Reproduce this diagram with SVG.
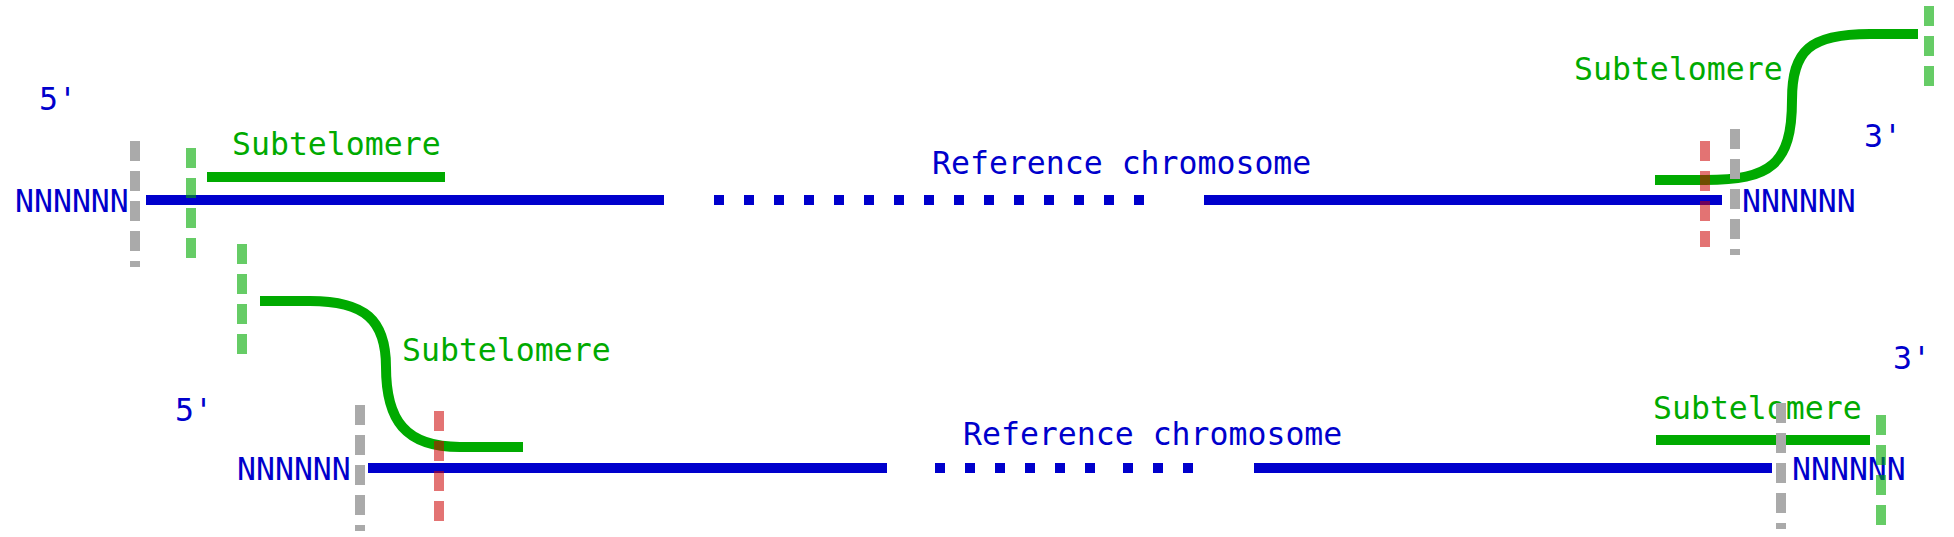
<svg xmlns="http://www.w3.org/2000/svg" width="1954" height="537" viewBox="0 0 1954 537">
<style>
text{font-family:"DejaVu Sans Mono","Liberation Mono",monospace;font-size:31.5px}
.b{fill:#0000cc}
.g{fill:#00aa00}
.chr{stroke:#0000cc;stroke-width:10;fill:none}
.dot{stroke:#0000cc;stroke-width:10;stroke-dasharray:10 20;fill:none}
.sub{stroke:#00aa00;stroke-width:10;fill:none}
.gray{stroke:#aaaaaa;stroke-width:10;stroke-dasharray:20 10}
.lg{stroke:#00aa00;stroke-opacity:0.6;stroke-width:10;stroke-dasharray:20 10}
.red{stroke:#cc0000;stroke-opacity:0.55;stroke-width:10;stroke-dasharray:20 10}
</style>
<rect width="1954" height="537" fill="#ffffff"/>
<g id="chromosome-top">
<line class="chr" x1="146" y1="200" x2="664" y2="200"/>
<line class="dot" x1="714" y1="200" x2="1144" y2="200"/>
<line class="chr" x1="1204" y1="200" x2="1722" y2="200"/>
<text class="b" x="932" y="174">Reference chromosome</text>
<text class="b" x="39" y="110">5'</text>
<text class="b" x="1864" y="147">3'</text>
<text class="b" x="15" y="212">NNNNNN</text>
<text class="b" x="1742" y="212">NNNNNN</text>
</g>
<g id="chromosome-bottom">
<line class="chr" x1="368" y1="468" x2="887" y2="468"/>
<line class="dot" x1="935" y1="468" x2="1095" y2="468"/>
<line class="dot" x1="1123" y1="468" x2="1193" y2="468"/>
<line class="chr" x1="1254" y1="468" x2="1772" y2="468"/>
<text class="b" x="963" y="445">Reference chromosome</text>
<text class="b" x="175" y="421">5'</text>
<text class="b" x="1893" y="369">3'</text>
<text class="b" x="237" y="480">NNNNNN</text>
<text class="b" x="1792" y="480">NNNNNN</text>
</g>
<g id="subtelomere-top-left">
<line class="sub" x1="207" y1="177" x2="445" y2="177"/>
<text class="g" x="232" y="155">Subtelomere</text>
</g>
<g id="subtelomere-top-right">
<path class="sub" d="M1655 180 H1705 C1770 180 1792 165 1792 100 C1792 50 1810 34 1870 34 H1918"/>
<text class="g" x="1574" y="80">Subtelomere</text>
</g>
<g id="subtelomere-bottom-left">
<path class="sub" d="M260 301 H310 C365 301 386 320 386 367 C386 420 405 447 460 447 H523"/>
<text class="g" x="402" y="361">Subtelomere</text>
</g>
<g id="subtelomere-bottom-right">
<line class="sub" x1="1656" y1="440" x2="1870" y2="440"/>
<text class="g" x="1653" y="419">Subtelomere</text>
</g>
<g id="connectors">
<line class="gray" x1="135" y1="141" x2="135" y2="267"/>
<line class="gray" x1="1735" y1="129" x2="1735" y2="255"/>
<line class="gray" x1="360" y1="405" x2="360" y2="531"/>
<line class="gray" x1="1781" y1="403" x2="1781" y2="529"/>
<line class="lg" x1="191" y1="148" x2="191" y2="258"/>
<line class="lg" x1="1929" y1="6" x2="1929" y2="86"/>
<line class="lg" x1="242" y1="244" x2="242" y2="354"/>
<line class="lg" x1="1881" y1="415" x2="1881" y2="525"/>
<line class="red" x1="1705" y1="141" x2="1705" y2="247"/>
<line class="red" x1="439" y1="411" x2="439" y2="521"/>
</g>
</svg>
